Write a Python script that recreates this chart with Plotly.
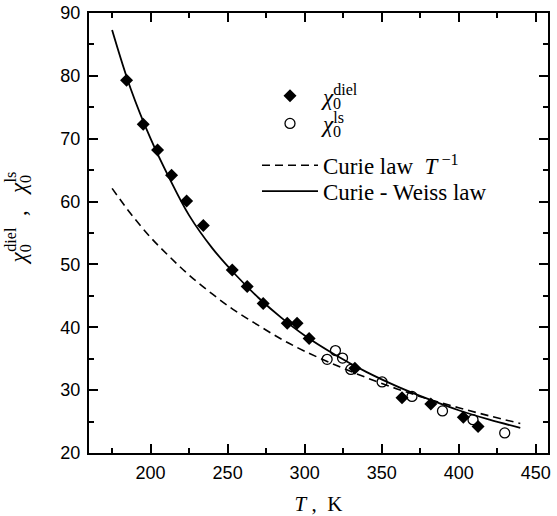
import plotly.graph_objects as go

# ---- data ----
T_diel = [184.4, 195.2, 204.5, 213.6, 223.4, 234.2, 253.0, 262.7, 273.1, 288.7, 295.1, 302.9,
          332.6, 363.2, 381.9, 403.0, 412.6]
chi_diel = [79.3, 72.3, 68.2, 64.2, 60.1, 56.2, 49.1, 46.5, 43.8, 40.65, 40.65, 38.2,
            33.5, 28.8, 27.8, 25.7, 24.2]

T_ls = [314.6, 320.0, 324.6, 330.0, 350.3, 369.7, 389.5, 409.3, 429.9]
chi_ls = [34.9, 36.3, 35.1, 33.3, 31.3, 29.0, 26.7, 25.3, 23.2]

T_curve = [175, 187, 200, 212, 225, 240, 255, 270, 285, 300, 320, 340, 360, 380, 400, 420, 440]
curie = [62.1, 58.1, 54.3, 51.3, 48.3, 45.3, 42.6, 40.3, 38.1, 36.2, 34.0, 32.0, 30.2, 28.6,
         27.2, 25.9, 24.7]
curie_weiss = [87.3, 78.0, 70.0, 63.8, 57.8, 52.6, 48.4, 44.7, 41.5, 38.7, 35.6, 32.9, 30.6,
               28.6, 26.8, 25.3, 24.0]

x_range = [160, 458]
y_range = [20, 90]
x_ticks = [200, 250, 300, 350, 400, 450]
y_ticks = [20, 30, 40, 50, 60, 70, 80, 90]

SERIF = "Liberation Serif"
SANS = "Liberation Sans"

name_diel = "<i>χ</i><sub><span style='letter-spacing:-8px'>0</span></sub><sup>diel</sup>"
name_ls = "<i>χ</i><sub><span style='letter-spacing:-8px'>0</span></sub><sup>ls</sup>"
name_curie = "Curie law  <i>T</i><sup> −1</sup>"
name_cw = "Curie - Weiss law"

fig = go.Figure()
fig.add_trace(go.Scatter(x=T_curve, y=curie, mode="lines", name=name_curie,
                         line=dict(color="black", width=1.6, dash="8px,5px", shape="spline"),
                         legend="legend3"))
fig.add_trace(go.Scatter(x=T_curve, y=curie_weiss, mode="lines", name=name_cw,
                         line=dict(color="black", width=1.8, shape="spline"),
                         legend="legend4"))
fig.add_trace(go.Scatter(x=T_diel, y=chi_diel, mode="markers", name=name_diel,
                         marker=dict(symbol="diamond", size=10, color="black", line=dict(width=0)),
                         legend="legend"))
fig.add_trace(go.Scatter(x=T_ls, y=chi_ls, mode="markers", name=name_ls,
                         marker=dict(symbol="circle-open", size=10, color="black",
                                     line=dict(width=1.3, color="black")),
                         legend="legend2"))

leg_common = dict(xanchor="left", yanchor="middle", bgcolor="rgba(0,0,0,0)",
                  font=dict(family=SERIF, size=23, color="black"), itemwidth=56,
                  borderwidth=0)
lx = 0.366
fig.update_layout(
    legend=dict(x=lx, y=0.812, **leg_common),
    legend2=dict(x=lx, y=0.749, **leg_common),
    legend3=dict(x=lx, y=0.654, **leg_common),
    legend4=dict(x=lx, y=0.595, **leg_common),
)

axis_common = dict(showline=True, linecolor="black", linewidth=2, mirror="ticks",
                   ticks="inside", ticklen=9, tickwidth=1.8, tickcolor="black",
                   showgrid=False, zeroline=False, automargin=False,
                   ticklabeloverflow="allow",
                   tickfont=dict(family=SANS, size=18, color="black"))

fig.update_xaxes(range=x_range, tickvals=x_ticks, ticklabelstandoff=2,
                 minor=dict(dtick=25, tick0=0, ticks="inside", ticklen=5, tickwidth=1.8,
                            tickcolor="black", showgrid=False),
                 title=dict(text="<i>T</i> ,  K", font=dict(family=SERIF, size=21, color="black"),
                            standoff=15),
                 **axis_common)
fig.update_yaxes(range=y_range, tickvals=y_ticks, ticklabelstandoff=3,
                 minor=dict(dtick=5, tick0=0, ticks="inside", ticklen=5, tickwidth=1.8,
                            tickcolor="black", showgrid=False),
                 **axis_common)

fig.add_annotation(
    text="<i>χ</i><sub><span style='letter-spacing:-7.5px'>0</span></sub><sup>diel</sup>  ,   "
         "<i>χ</i><sub><span style='letter-spacing:-7.5px'>0</span></sub><sup>ls</sup>",
    xref="paper", yref="paper", x=-0.156, y=0.534, textangle=-90, showarrow=False,
    font=dict(family=SERIF, size=23, color="black"), xanchor="center", yanchor="middle")

fig.update_layout(
    width=557, height=516,
    margin=dict(l=89, r=9, t=13, b=63),
    plot_bgcolor="white", paper_bgcolor="white",
    showlegend=True,
)

# remove the default page margin so the figure fills the window exactly
fig.write_html("out.html", config={"displayModeBar": False},
               post_script="document.body.style.margin='0';")
